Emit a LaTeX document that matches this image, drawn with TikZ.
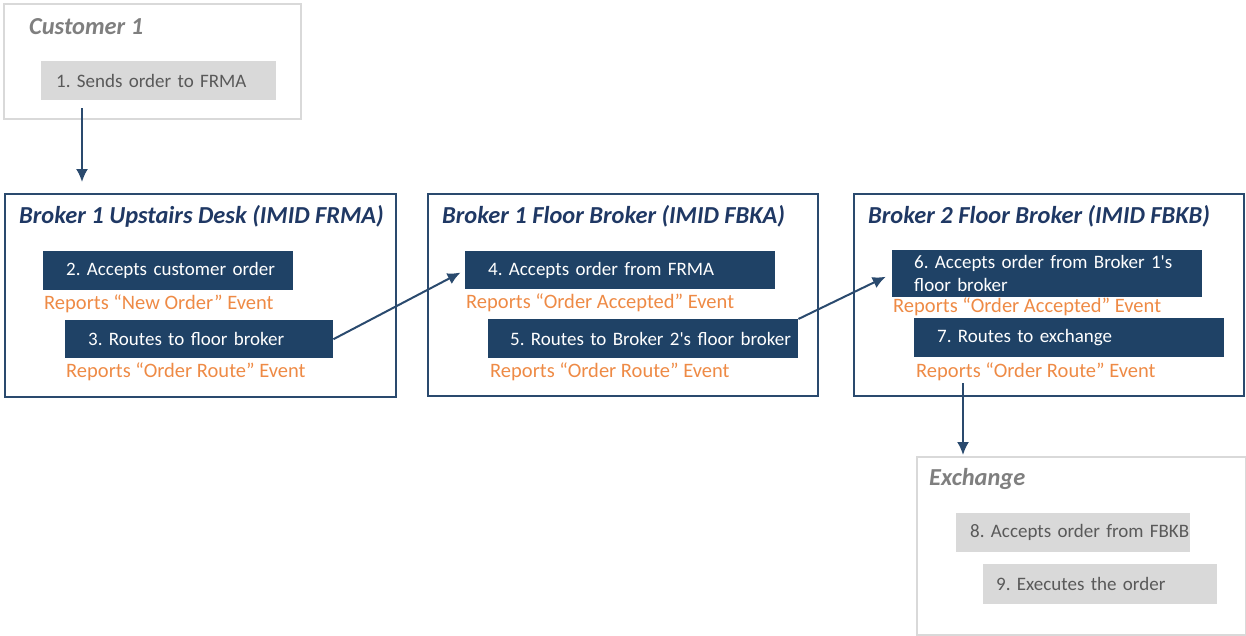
\documentclass[tikz,border=0pt]{standalone}
\usepackage{fontspec}
\setmainfont{Carlito}
\usetikzlibrary{arrows.meta}
\definecolor{navy}{HTML}{1F4266}
\definecolor{navyline}{HTML}{2A4A6E}
\definecolor{titleblue}{HTML}{1F3864}
\definecolor{orangetxt}{HTML}{EE8A45}
\definecolor{lightgray}{HTML}{D9D9D9}
\definecolor{graytitle}{HTML}{7F7F7F}
\definecolor{graytext}{HTML}{595959}
\tikzset{
  every node/.append style={execute at begin node={\frenchspacing}},
  darkframe/.style={draw=navyline, line width=1.8pt, inner sep=0pt, anchor=north west},
  grayframe/.style={draw=lightgray, line width=1.8pt, inner sep=0pt, anchor=north west},
  frametitle/.style={anchor=base west, inner sep=0pt, font=\fontsize{24.4}{29}\selectfont\bfseries\itshape},
  stepbox/.style={anchor=north west, inner xsep=0pt, inner ysep=0pt, align=left,
     font=\fontsize{19}{23}\selectfont\frenchspacing, execute at begin node={\hspace*{#1}}},
  darkstep/.style={stepbox=#1, fill=navy, text=white},
  graystep/.style={stepbox=#1, fill=lightgray, text=graytext},
  report/.style={anchor=base west, inner sep=0pt, text=orangetxt, font=\fontsize{20.5}{24}\selectfont},
  arr/.style={draw=navyline, line width=2pt, -{Latex[length=13pt,width=12pt]}}
}
\begin{document}
\begin{tikzpicture}[x=1pt,y=-1pt]
\useasboundingbox (0,0) rectangle (1246,635);
% Customer
\node[grayframe, minimum width=297pt, minimum height=115pt] (cust) at (3,3) {};
\node[frametitle, text=graytitle] (custt) at (29,34) {Customer 1};
\node[graystep=15pt, text width=235pt, minimum height=39pt] (s1) at (41,61) {1. Sends order to FRMA};
% Broker 1 Upstairs
\node[darkframe, minimum width=391pt, minimum height=203pt] (b1) at (4,193) {};
\node[frametitle, text=titleblue] (b1t) at (19,223) {Broker 1 Upstairs Desk (IMID FRMA)};
\node[darkstep=23pt, text width=250pt, minimum height=39pt] (s2) at (43,251) {2. Accepts customer order};
\node[report] (r2) at (44,309) {Reports “New Order” Event};
\node[darkstep=23pt, text width=268pt, minimum height=38pt] (s3) at (65,320) {3. Routes to floor broker};
\node[report] (r3) at (66,377.5) {Reports “Order Route” Event};
% Broker 1 Floor
\node[darkframe, minimum width=390pt, minimum height=202pt] (b2) at (427,193) {};
\node[frametitle, text=titleblue] (b2t) at (442,223) {Broker 1 Floor Broker (IMID FBKA)};
\node[darkstep=23pt, text width=310pt, minimum height=38pt] (s4) at (465,251) {4. Accepts order from FRMA};
\node[report] (r4) at (466,308) {Reports “Order Accepted” Event};
\node[darkstep=22pt, text width=310pt, minimum height=39pt] (s5) at (488,319) {5. Routes to Broker 2\textquotesingle s floor broker};
\node[report] (r5) at (490,377) {Reports “Order Route” Event};
% Broker 2 Floor
\node[darkframe, minimum width=390pt, minimum height=202pt] (b3) at (853,193) {};
\node[frametitle, text=titleblue] (b3t) at (868,223) {Broker 2 Floor Broker (IMID FBKB)};
\node[darkstep=22pt, text width=310pt, minimum height=47pt] (s6) at (892,250) {6. Accepts order from Broker 1\textquotesingle s\\\hspace*{22pt}floor broker};
\node[report] (r6) at (893,312) {Reports “Order Accepted” Event};
\node[darkstep=23pt, text width=310pt, minimum height=39pt] (s7) at (914,318) {7. Routes to exchange};
\node[report] (r7) at (916,377) {Reports “Order Route” Event};
% Exchange
\node[grayframe, minimum width=329pt, minimum height=178pt] (ex) at (916,456) {};
\node[frametitle, text=graytitle] (ext) at (929,485) {Exchange};
\node[graystep=14pt, text width=234pt, minimum height=39pt] (s8) at (956,513) {8. Accepts order from FBKB};
\node[graystep=13pt, text width=234pt, minimum height=40pt] (s9) at (983,564) {9. Executes the order};
% connectors
\coordinate (a1s) at (82,108);
\coordinate (a4s) at (963,383);
\draw[arr, shorten >=11pt] (a1s) -- (a1s |- b1.north);
\draw[arr, shorten >=5pt] (s3.east) -- (s4.west);
\draw[arr, shorten >=7pt] (s5.north east) -- (s6.west);
\draw[arr, shorten >=1pt] (a4s) -- (a4s |- ex.north);
\end{tikzpicture}
\end{document}
